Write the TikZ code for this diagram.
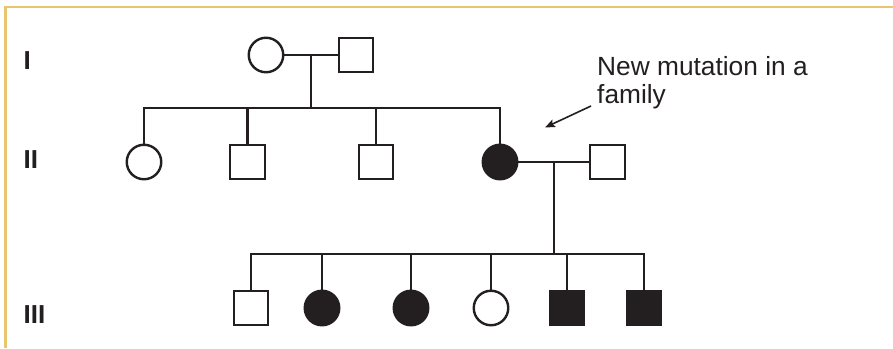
\documentclass[tikz,border=0pt]{standalone}
\usepackage{fontspec}
\setmainfont{Liberation Sans}
\usetikzlibrary{arrows.meta,calc}
\definecolor{frame}{HTML}{E8C56E}
\definecolor{ink}{HTML}{231F20}
\tikzset{
  person/.style={draw=ink, line width=2.4pt, inner sep=0pt, minimum size=34.5pt},
  male/.style={person, rectangle},
  female/.style={person, circle},
  affected/.style={fill=ink},
  gen/.style={anchor=base west, inner sep=0pt, font=\fontsize{26}{28}\selectfont\bfseries, text=ink},
  link/.style={draw=ink, line width=2.4pt},
  note/.style={anchor=north west, inner sep=0pt, align=left, font=\fontsize{26.3}{28}\selectfont, text=ink}
}
\begin{document}
\begin{tikzpicture}[x=1pt,y=-1pt]
\useasboundingbox (0,0) rectangle (893,348);
\fill[white] (0,0) rectangle (893,348);
% frame
\draw[frame, line width=2.5pt] (5.5,348) -- (5.5,7) -- (893,7);
% generation labels
\node[gen] (gI) at (23.5,69) {I};
\node[gen] (gII) at (23.5,168) {II};
\node[gen] (gIII) at (23.5,323) {III};
% generation I
\node[female] (I1) at (266,55) {};
\node[male] (I2) at (356,55) {};
% generation II
\node[female] (II1) at (144,162) {};
\node[male] (II2) at (247.5,162) {};
\node[male] (II3) at (376,162) {};
\node[female, affected] (II4) at (500,162) {};
\node[male] (II5) at (607.5,162) {};
% generation III
\node[male] (III1) at (251,308) {};
\node[female, affected] (III2) at (322,308) {};
\node[female, affected] (III3) at (411,308) {};
\node[female] (III4) at (491,308) {};
\node[male, affected] (III5) at (567,308) {};
\node[male, affected] (III6) at (644,308) {};
% mating and sibship lines
\coordinate (m1) at ($(I1)!0.5!(I2)$);
\coordinate (s1) at (310,108);
\coordinate (m2) at ($(II4)!0.5!(II5)$);
\coordinate (s2) at (555,254);
\draw[link] (I1) -- (I2);
\draw[link] (m1) -- (m1 |- s1);
\draw[link] (II1.north) |- (II4.north |- s1) -- (II4.north);
\draw[link] (II2.north) -- (II2.north |- s1);
\draw[link] (II3.north) -- (II3.north |- s1);
\draw[link] (II4) -- (II5);
\draw[link] (m2) -- (m2 |- s2);
\draw[link] (III1.north) |- (III6.north |- s2) -- (III6.north);
\draw[link] (III2.north) -- (III2.north |- s2);
\draw[link] (III3.north) -- (III3.north |- s2);
\draw[link] (III4.north) -- (III4.north |- s2);
\draw[link] (III5.north) -- (III5.north |- s2);
% annotation
\node[note] (txt) at (597,56.2) {New mutation in a\\family};
\coordinate (atail) at (591,106);
\coordinate (atip) at (545,127.5);
\draw[draw=ink, line width=1.6pt, -{Stealth[length=10pt,width=8pt,inset=2pt]}] (atail) -- (atip);
\end{tikzpicture}
\end{document}
